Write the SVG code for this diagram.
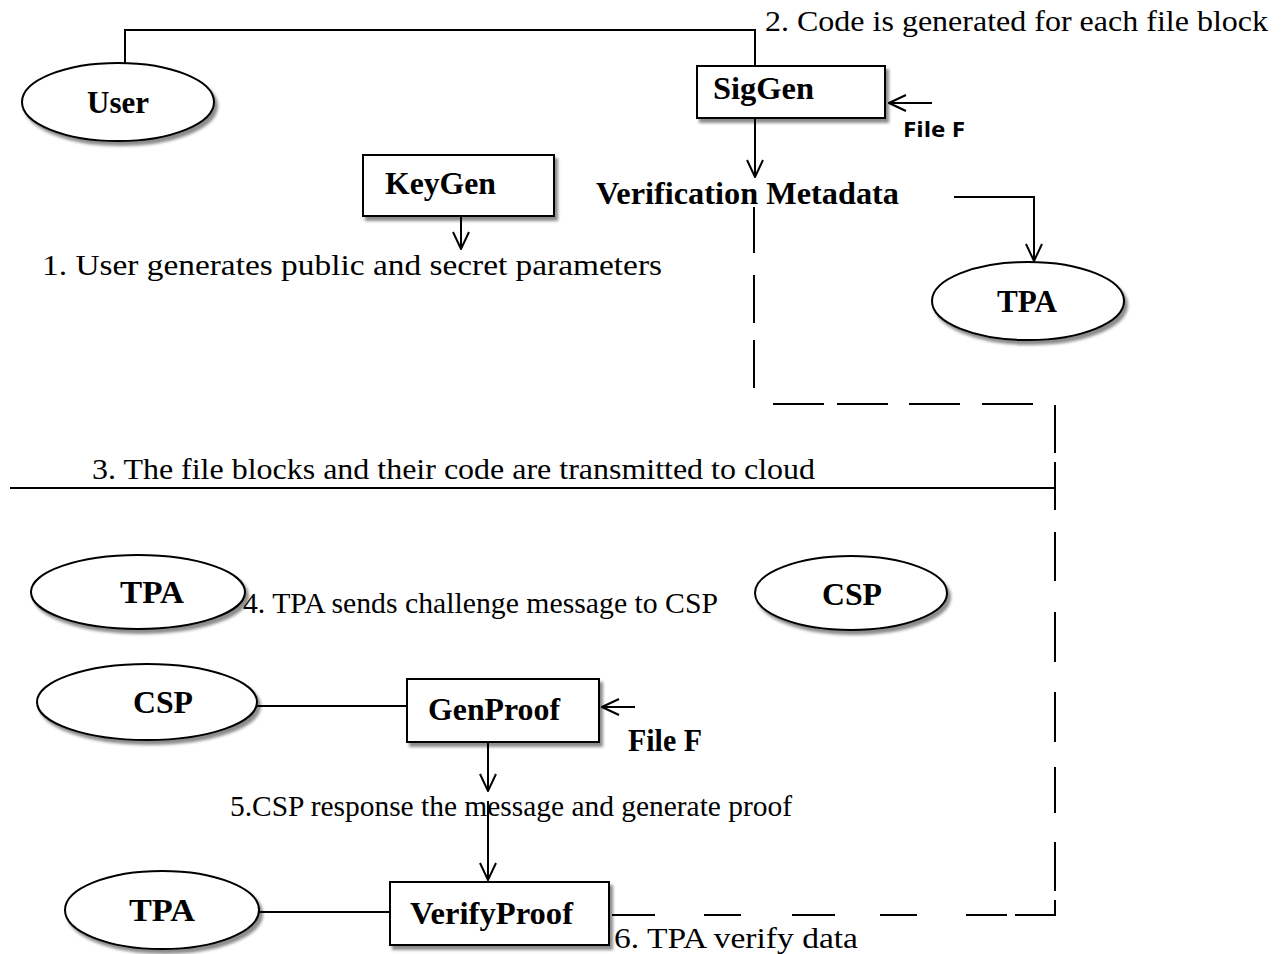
<svg xmlns="http://www.w3.org/2000/svg" width="1283" height="954" viewBox="0 0 1283 954">
<defs>
<marker id="oa" viewBox="0 0 20 20" refX="19" refY="10" markerWidth="20" markerHeight="20" markerUnits="userSpaceOnUse" orient="auto">
<path d="M2,2 L19,10 L2,18" fill="none" stroke="#000" stroke-width="2"/>
</marker>
<filter id="sh" x="-10%" y="-10%" width="130%" height="140%">
<feDropShadow dx="3" dy="4" stdDeviation="1.5" flood-color="#000" flood-opacity="0.45"/>
</filter>
</defs>
<style>
.n{fill:#fff;stroke:#000;stroke-width:2;filter:url(#sh)}
.lb{font-family:'Liberation Serif','Times New Roman',Times,serif;font-weight:bold;font-size:31px;fill:#000}
.t{font-family:'Liberation Serif','Times New Roman',Times,serif;font-size:30px;fill:#000}
.fs{font-family:'Open Sans','Liberation Sans',sans-serif;font-weight:bold;font-size:22px;fill:#000}
.c{fill:none;stroke:#000;stroke-width:2}
</style>
<rect width="1283" height="954" fill="#fff"/>
<g id="connectors">
<path class="c" d="M125,63 V30 H755 V66"/>
<path class="c" d="M755,118 V177" marker-end="url(#oa)"/>
<path class="c" d="M932,103 H889" marker-end="url(#oa)"/>
<path class="c" d="M461,216 V249" marker-end="url(#oa)"/>
<path class="c" d="M954,197 H1034 V261" marker-end="url(#oa)"/>
<path class="c" d="M754,207 V253 M754,275 V323 M754,340 V388"/>
<path class="c" d="M773,404 H824 M837,404 H888 M909,404 H960 M982,404 H1033"/>
<path class="c" d="M1055,405 V453 M1055,462 V510 M1055,532 V581 M1055,612 V662 M1055,692 V742 M1055,767 V813 M1055,842 V891 M1055,900 V915 H1015 M1007,915 H966 M917,915 H880 M835,915 H792 M741,915 H704 M655,915 H612"/>
<path class="c" d="M10,488 H1055"/>
<path class="c" d="M257,706 H407"/>
<path class="c" d="M635,707 H602" marker-end="url(#oa)"/>
<path class="c" d="M488,742 V791" marker-end="url(#oa)"/>
<path class="c" d="M488,801 V880" marker-end="url(#oa)"/>
<path class="c" d="M258,912 H390"/>
</g>
<g id="user"><ellipse class="n" cx="118" cy="102" rx="96" ry="39"/><text class="lb" x="87" y="113" textLength="62" lengthAdjust="spacingAndGlyphs">User</text></g>
<g id="siggen"><rect class="n" x="697" y="66" width="188" height="52"/><text class="lb" x="713" y="99" textLength="101" lengthAdjust="spacingAndGlyphs">SigGen</text></g>
<g id="keygen"><rect class="n" x="363" y="155" width="191" height="61"/><text class="lb" x="385" y="194" textLength="111" lengthAdjust="spacingAndGlyphs">KeyGen</text></g>
<g id="tpa1"><ellipse class="n" cx="1028" cy="301" rx="96" ry="39"/><text class="lb" x="997" y="312" textLength="60" lengthAdjust="spacingAndGlyphs">TPA</text></g>
<g id="tpa2"><ellipse class="n" cx="138" cy="592" rx="107" ry="37"/><text class="lb" x="120" y="603" textLength="64" lengthAdjust="spacingAndGlyphs">TPA</text></g>
<g id="csp1"><ellipse class="n" cx="851" cy="593" rx="96" ry="37"/><text class="lb" x="822" y="605" textLength="60" lengthAdjust="spacingAndGlyphs">CSP</text></g>
<g id="csp2"><ellipse class="n" cx="147" cy="702" rx="110" ry="38"/><text class="lb" x="133" y="713" textLength="60" lengthAdjust="spacingAndGlyphs">CSP</text></g>
<g id="genproof"><rect class="n" x="407" y="679" width="192" height="63"/><text class="lb" x="428" y="720" textLength="132" lengthAdjust="spacingAndGlyphs">GenProof</text></g>
<g id="tpa3"><ellipse class="n" cx="162" cy="910" rx="97" ry="39"/><text class="lb" x="129" y="921" textLength="66" lengthAdjust="spacingAndGlyphs">TPA</text></g>
<g id="verifyproof"><rect class="n" x="390" y="882" width="219" height="63"/><text class="lb" x="410" y="924" textLength="163" lengthAdjust="spacingAndGlyphs">VerifyProof</text></g>
<g id="labels">
<text class="t" x="765" y="31" textLength="503" lengthAdjust="spacingAndGlyphs">2. Code is generated for each file block</text>
<text class="fs" x="903" y="137" textLength="62" lengthAdjust="spacingAndGlyphs">File F</text>
<text class="lb" x="596" y="204" textLength="303" lengthAdjust="spacingAndGlyphs">Verification Metadata</text>
<text class="t" x="42" y="275" textLength="620" lengthAdjust="spacingAndGlyphs">1. User generates public and secret parameters</text>
<text class="t" x="92" y="479" textLength="723" lengthAdjust="spacingAndGlyphs">3. The file blocks and their code are transmitted to cloud</text>
<text class="t" x="243" y="613" textLength="475" lengthAdjust="spacingAndGlyphs">4. TPA sends challenge message to CSP</text>
<text class="lb" x="628" y="751" textLength="74" lengthAdjust="spacingAndGlyphs">File F</text>
<text class="t" x="230" y="816" textLength="562" lengthAdjust="spacingAndGlyphs">5.CSP response the message and generate proof</text>
<text class="t" x="614" y="948" textLength="244" lengthAdjust="spacingAndGlyphs">6. TPA verify data</text>
</g>
</svg>
